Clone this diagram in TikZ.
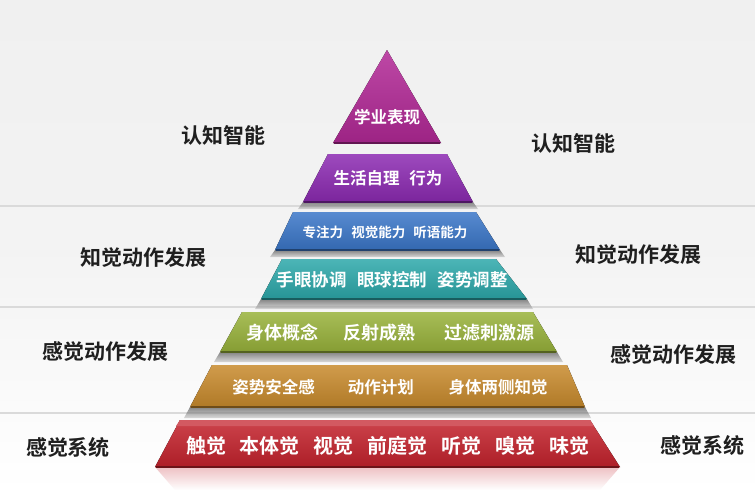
\documentclass[tikz,border=0pt]{standalone}
\usepackage{fontspec}
\setmainfont{Noto Sans CJK SC}[BoldFont={Noto Sans CJK SC Bold}]
\usepackage{tikz}
\usetikzlibrary{positioning,calc}
\definecolor{bgtop}{RGB}{240,240,240}
\definecolor{sepline}{RGB}{218,218,218}
\definecolor{lvlmagenta}{RGB}{178,40,150}
\definecolor{lvlpurple}{RGB}{140,42,178}
\definecolor{lvlblue}{RGB}{58,118,200}
\definecolor{lvlteal}{RGB}{44,168,170}
\definecolor{lvlgreen}{RGB}{152,178,58}
\definecolor{lvlorange}{RGB}{200,138,44}
\definecolor{lvlred}{RGB}{196,34,44}

\begin{document}
\begin{tikzpicture}[
    x=1pt, y=-1pt,
    layer/.style={top color=#1!85!white, bottom color=#1!88!black},
    layeredge/.style={draw=#1!55!black, line width=1.6pt},
    shadowband/.style={top color=black!85, bottom color=black!25, opacity=0.55},
    lvltext/.style={text=white, font=\bfseries\fontsize{#1}{#1}\selectfont, inner sep=0pt},
    sidelabel/.style={text=black!88, font=\bfseries\fontsize{21}{21}\selectfont, inner sep=0pt},
    separator/.style={draw=sepline, line width=1.2pt}
]

% Background
\shade[top color=bgtop, bottom color=white, middle color=bgtop!80!white]
    (0,0) rectangle (755,493);
\useasboundingbox (0,0) rectangle (755,493);

% Separators
\draw[separator] (0,206) -- (755,206);
\draw[separator] (0,307) -- (755,307);
\draw[separator] (0,413) -- (755,413);

% Shadows under the bands
\shade[shadowband] (303,202) -- (473,202) -- (478,209) -- (298,209) -- cycle;
\shade[shadowband] (275,250) -- (500,250) -- (505,257) -- (270,257) -- cycle;
\shade[shadowband] (261,299) -- (527,299) -- (533,309) -- (255,309) -- cycle;
\shade[shadowband] (220,352) -- (557,352) -- (563,362) -- (214,362) -- cycle;
\shade[shadowband] (190,407) -- (585,407) -- (591,418) -- (184,418) -- cycle;
\shade[top color=lvlred!35, bottom color=white, opacity=0.8]
    (155,467) -- (620,467) -- (600,490) -- (175,490) -- cycle;

% Pyramid levels
\fill[layer=lvlmagenta] (387,50) -- (441,143) -- (333,143) -- cycle;
\draw[layeredge=lvlmagenta] (334,143) -- (440,143);
\fill[layer=lvlpurple] (328,154) -- (447,154) -- (473,202) -- (303,202) -- cycle;
\draw[layeredge=lvlpurple] (304,202) -- (472,202);
\fill[layer=lvlblue] (293,212) -- (476,212) -- (500,250) -- (275,250) -- cycle;
\draw[layeredge=lvlblue] (276,250) -- (499,250);
\fill[layer=lvlteal] (282,259) -- (496,259) -- (527,299) -- (261,299) -- cycle;
\draw[layeredge=lvlteal] (262,299) -- (526,299);
\fill[layer=lvlgreen] (242,312) -- (533,312) -- (557,352) -- (220,352) -- cycle;
\draw[layeredge=lvlgreen] (221,352) -- (556,352);
\fill[layer=lvlorange] (212,365) -- (567,365) -- (585,407) -- (190,407) -- cycle;
\draw[layeredge=lvlorange] (191,407) -- (584,407);
\fill[layer=lvlred] (180,420) -- (590,420) -- (620,467) -- (155,467) -- cycle;
\fill[lvlred!75!white] (180,420) -- (590,420) -- (594,426) -- (176,426) -- cycle;
\draw[layeredge=lvlred] (156,467) -- (619,467);

% Level texts
\node[lvltext=16.5] (acad)  at (387,117) {学业表现};
\node[lvltext=16.5] (self)  at (388,178) {生活自理\hspace{0.6em}行为};
\node[lvltext=13.5] (focus) at (385,232) {专注力\hspace{0.6em}视觉能力\hspace{0.6em}听语能力};
\node[lvltext=17.5] (hand)  at (392,280) {手眼协调\hspace{0.6em}眼球控制\hspace{0.6em}姿势调整};
\node[lvltext=18]   (body)  at (390,333) {身体概念\hspace{1.4em}反射成熟\hspace{1.6em}过滤刺激源};
\node[lvltext=16.5] (plan)  at (390,387) {姿势安全感\hspace{2em}动作计划\hspace{2.1em}身体两侧知觉};
\node[lvltext=20]   (sense) at (388,446) {触觉\hspace{0.7em}本体觉\hspace{0.7em}视觉\hspace{0.7em}前庭觉\hspace{0.7em}听觉\hspace{0.7em}嗅觉\hspace{0.7em}味觉};

% Side labels
\node[sidelabel] (cogL)  at (223,135) {认知智能};
\node[sidelabel] (cogR)  at (573,143) {认知智能};
\node[sidelabel] (percL) at (143,258) {知觉动作发展};
\node[sidelabel] (percR) at (638,255) {知觉动作发展};
\node[sidelabel] (motL)  at (105,352) {感觉动作发展};
\node[sidelabel] (motR)  at (673,355) {感觉动作发展};
\node[sidelabel] (sysL)  at (68,447)  {感觉系统};
\node[sidelabel] (sysR)  at (702,445) {感觉系统};

\end{tikzpicture}
\end{document}
